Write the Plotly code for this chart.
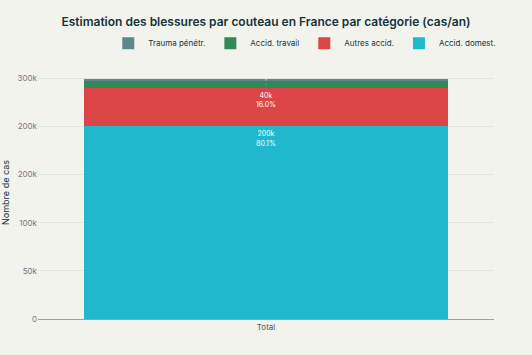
import plotly.graph_objects as go

categories = ["Total"]
series_names = ["Accid. domest.", "Autres accid.", "Accid. travail", "Trauma pénétr."]
series_values = [[200000], [40000], [8000], [1700]]
colors = ["#1FB8CD", "#DB4545", "#2E8B57", "#5D878F"]
tick_vals = [0, 50000, 100000, 150000, 200000, 250000]

total = sum(v[0] for v in series_values)

fig = go.Figure()
for name, vals, col in zip(series_names, series_values, colors):
    texts = [f"{v/1000:.0f}k<br>{v/total*100:.1f}%" for v in vals]
    fig.add_trace(go.Bar(
        x=categories, y=vals, name=name, marker_color=col,
        marker_line_width=0,
        text=texts, textposition="inside", insidetextanchor="end",
        textfont=dict(color="white", size=7),
    ))

fig.update_layout(
    barmode="stack",
    width=532, height=355,
    paper_bgcolor="#F3F3EE", plot_bgcolor="#F3F3EE",
    font=dict(family="Inter, Liberation Sans, Arial, sans-serif", color="#13343B", size=9),
    title=dict(text="Estimation des blessures par couteau en France par catégorie (cas/an)",
               x=0.5, xanchor="center", y=0.938, yanchor="middle",
               font=dict(size=12, color="#13343B", family="Inter, Liberation Sans, sans-serif", weight=600)),
    legend=dict(orientation="h", x=0.585, xanchor="center", y=1.09, yanchor="middle",
                traceorder="reversed", font=dict(size=8, color="#13343B"),
                itemwidth=30),
    margin=dict(l=38, r=38, t=66, b=36),
    xaxis=dict(showline=True, linecolor="#A0A0A0", linewidth=1, ticks="",
               tickfont=dict(size=8, color="#555")),
    yaxis=dict(title=dict(text="Nombre de cas", font=dict(size=9, color="#13343B"), standoff=6),
               tickvals=tick_vals, tickformat=".1s", automargin=False,
               tickfont=dict(size=8, color="#777"),
               gridcolor="#E3E3DF", zeroline=False, showline=False),
)

fig.write_html("out.html", config={"displayModeBar": False},
               post_script="document.body.style.margin='0';")
